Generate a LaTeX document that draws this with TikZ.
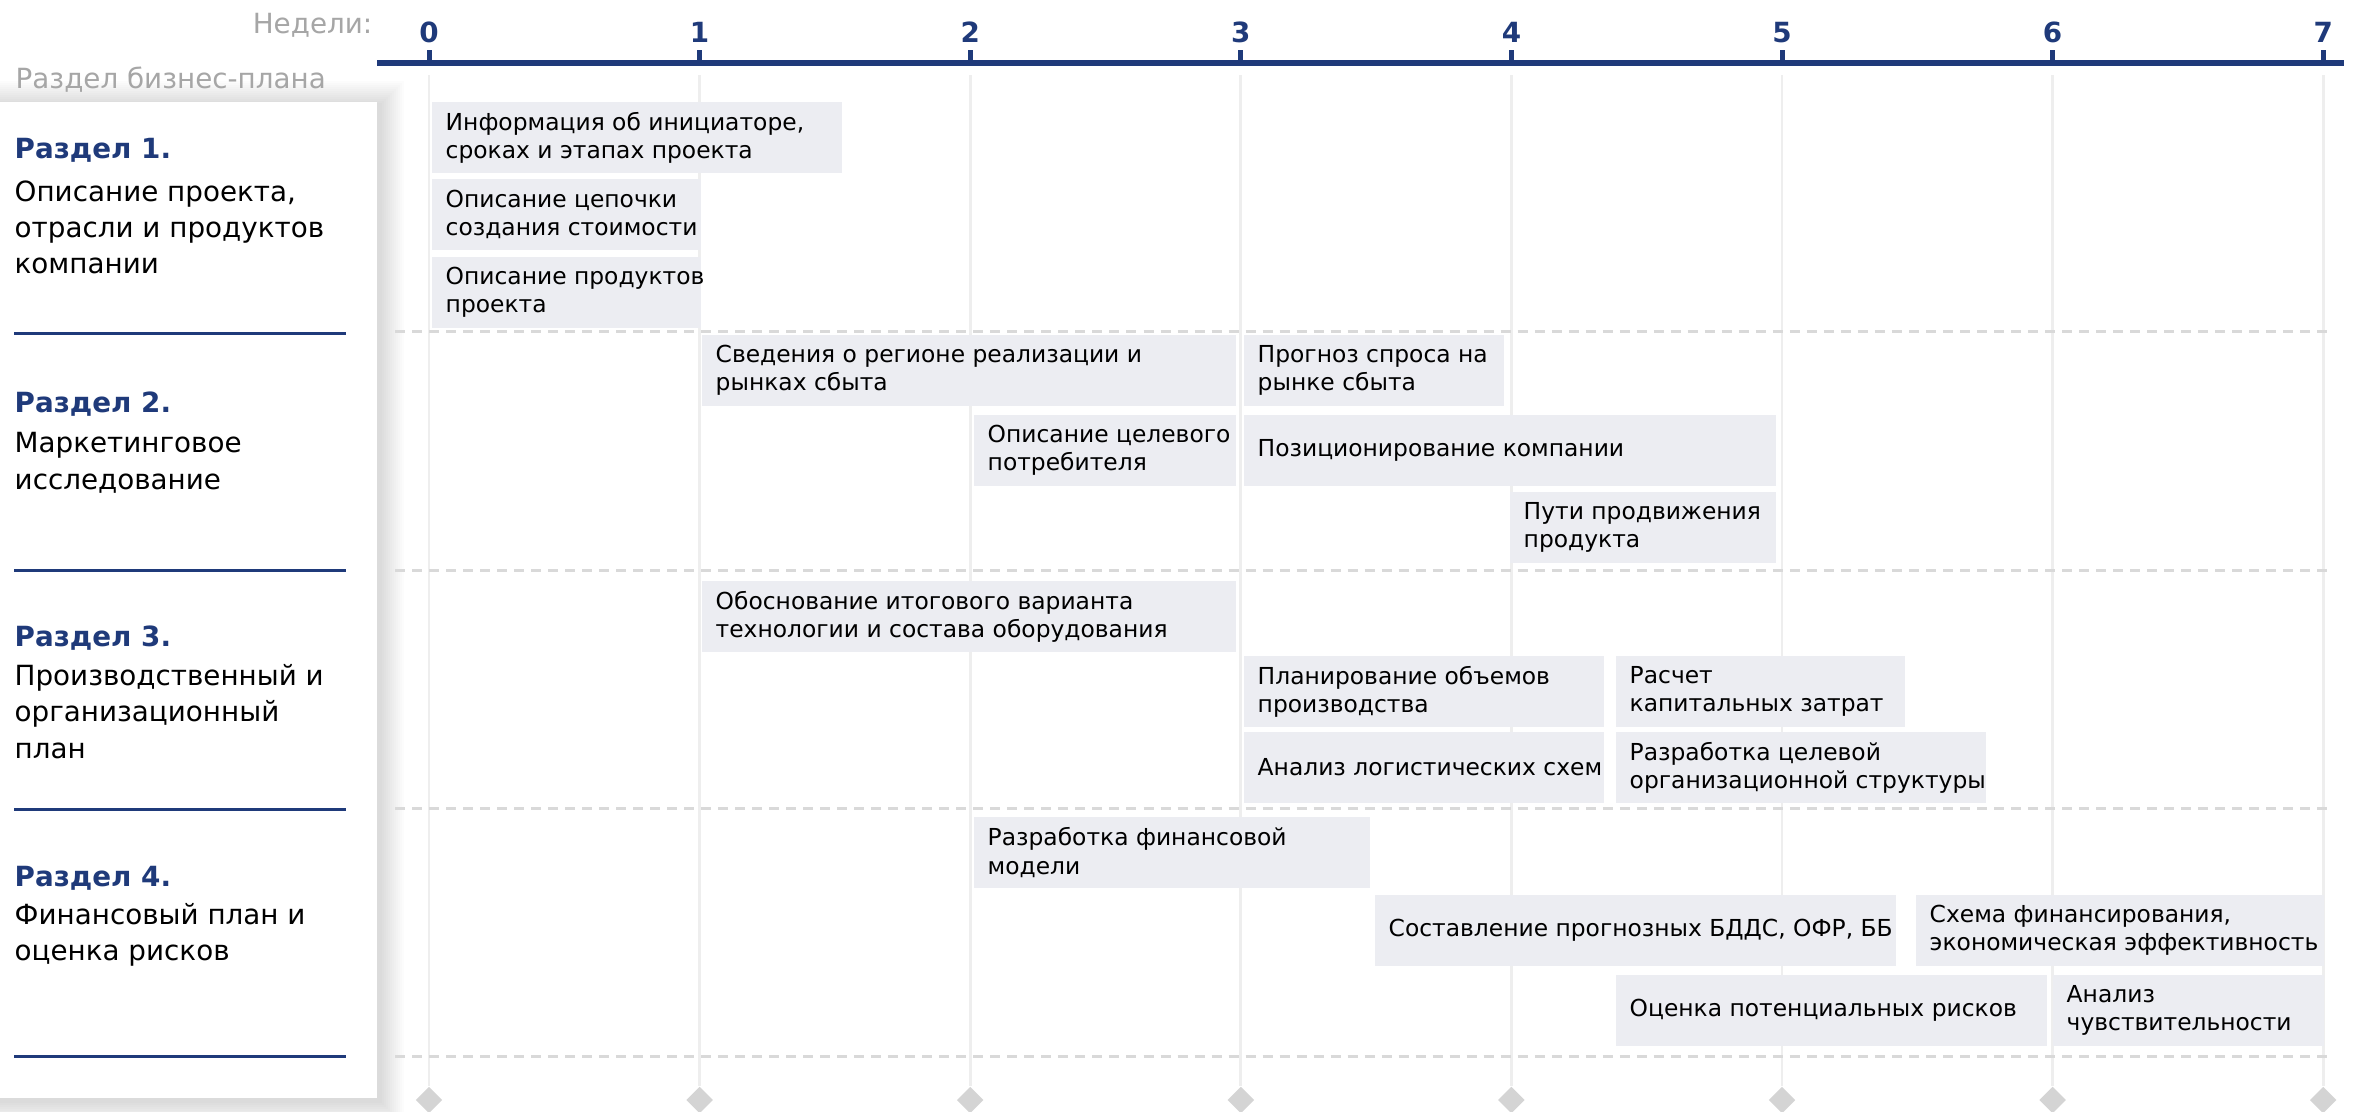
\documentclass[tikz,border=0pt]{standalone}
\usepackage{fontspec}
\setmainfont{DejaVu Sans}
\usetikzlibrary{positioning,shapes.geometric}

\definecolor{navy}{RGB}{31,58,122}
\definecolor{barfill}{RGB}{236,237,242}
\definecolor{headgray}{RGB}{166,166,166}
\definecolor{gridgray}{RGB}{238,238,238}
\definecolor{dashgray}{RGB}{217,217,217}
\definecolor{markgray}{RGB}{212,212,212}

\tikzset{
  taskbar/.style={fill=barfill, anchor=west, minimum height=0.71cm, inner sep=0pt},
  tasktext/.style={inner sep=0pt, align=left, font=\fontsize{6.65}{8}\selectfont},
  sectitle/.style={anchor=base west, inner sep=0pt, text=navy, font=\fontsize{7.9}{10.24}\selectfont\bfseries},
  secdesc/.style={anchor=base west, inner sep=0pt, align=left, font=\fontsize{7.9}{10.24}\selectfont},
  weeknum/.style={anchor=base, inner sep=0pt, text=navy, font=\fontsize{7.9}{9}\selectfont\bfseries},
  headlbl/.style={inner sep=0pt, text=headgray, font=\fontsize{7.9}{9}\selectfont},
  weekmark/.style={diamond, fill=markgray, minimum size=0.27cm, inner sep=0pt}
}

\begin{document}
\begin{tikzpicture}[x=0.01cm,y=-0.01cm]
\useasboundingbox[fill=white] (0,0) rectangle (2354,1112);

% left panel with soft shadow
\foreach \s in {2,4,...,24}
  \fill[black,opacity=0.012] ({-\s},{102-\s+3}) rectangle ({377+\s+3},{1098+\s+3});
\fill[white] (0,102) rectangle (377,1098);

% week grid
\foreach \k in {0,...,7}
  {
    \node[weekmark] (m\k) at ({429+270.6*\k},1100) {};
    \draw[gridgray, line width=0.027cm] ({429+270.6*\k},75) -- (m\k.north);
  }

\foreach \y in {331,570,808,1056}
  \draw[dashgray, line width=0.03cm, dash pattern=on 0.1cm off 0.07cm] (395,\y) -- (2334,\y);

% timeline
\draw[navy, line width=0.05cm] (377,63) -- (2344,63);
\foreach \k in {0,...,7}
  {
    \draw[navy, line width=0.05cm] ({429+270.6*\k},50) -- ({429+270.6*\k},63);
    \node[weeknum] (w\k) at ({429+270.6*\k},42) {\k};
  }

\node[headlbl, anchor=base east] (weeks) at (373,33) {Недели:};
\node[headlbl, anchor=base west] (parts) at (15,88) {Раздел бизнес-плана};

% sections (base = last line)
\node[sectitle] (s1) at (14,158) {Раздел 1.};
\node[secdesc] (s1d) at (14,273.5) {Описание проекта,\\отрасли и продуктов\\компании};
\node[sectitle] (s2) at (14,412) {Раздел 2.};
\node[secdesc] (s2d) at (14,489) {Маркетинговое\\исследование};
\node[sectitle] (s3) at (14,646) {Раздел 3.};
\node[secdesc] (s3d) at (14,758) {Производственный и\\организационный\\план};
\node[sectitle] (s4) at (14,886) {Раздел 4.};
\node[secdesc] (s4d) at (14,960) {Финансовый план и\\оценка рисков};

\foreach \y in {333,570,809,1056}
  \draw[navy, line width=0.03cm] (14,\y) -- (346,\y);

% tasks
\node[taskbar, minimum width=4.10cm] (t1) at (431,137.5) {};
\node[tasktext, right=0.14cm of t1.west] (t1l) {Информация об инициаторе,\\сроках и этапах проекта};
\node[taskbar, minimum width=2.69cm] (t2) at (431,214.5) {};
\node[tasktext, right=0.14cm of t2.west] (t2l) {Описание цепочки\\создания стоимости};
\node[taskbar, minimum width=2.69cm] (t3) at (431,292.5) {};
\node[tasktext, right=0.14cm of t3.west] (t3l) {Описание продуктов\\проекта};

\node[taskbar, minimum width=5.34cm] (t4) at (701,370.5) {};
\node[tasktext, right=0.14cm of t4.west] (t4l) {Сведения о регионе реализации и\\рынках сбыта};
\node[taskbar, minimum width=2.60cm] (t5) at (1243,370.5) {};
\node[tasktext, right=0.14cm of t5.west] (t5l) {Прогноз спроса на\\рынке сбыта};
\node[taskbar, minimum width=2.62cm] (t6) at (973,450.5) {};
\node[tasktext, right=0.14cm of t6.west] (t6l) {Описание целевого\\потребителя};
\node[taskbar, minimum width=5.32cm] (t7) at (1243,450.5) {};
\node[tasktext, right=0.14cm of t7.west] (t7l) {Позиционирование компании};
\node[taskbar, minimum width=2.66cm] (t8) at (1509,527.5) {};
\node[tasktext, right=0.14cm of t8.west] (t8l) {Пути продвижения\\продукта};

\node[taskbar, minimum width=5.34cm] (t9) at (701,616.5) {};
\node[tasktext, right=0.14cm of t9.west] (t9l) {Обоснование итогового варианта\\технологии и состава оборудования};
\node[taskbar, minimum width=3.60cm] (t10) at (1243,691.5) {};
\node[tasktext, right=0.14cm of t10.west] (t10l) {Планирование объемов\\производства};
\node[taskbar, minimum width=2.89cm] (t11) at (1615,691.5) {};
\node[tasktext, right=0.14cm of t11.west] (t11l) {Расчет\\капитальных затрат};
\node[taskbar, minimum width=3.60cm] (t12) at (1243,767.5) {};
\node[tasktext, right=0.14cm of t12.west] (t12l) {Анализ логистических схем};
\node[taskbar, minimum width=3.70cm] (t13) at (1615,767.5) {};
\node[tasktext, right=0.14cm of t13.west] (t13l) {Разработка целевой\\организационной структуры};

\node[taskbar, minimum width=3.96cm] (t14) at (973,852.5) {};
\node[tasktext, right=0.14cm of t14.west] (t14l) {Разработка финансовой\\модели};
\node[taskbar, minimum width=5.21cm] (t15) at (1374,930.5) {};
\node[tasktext, right=0.14cm of t15.west] (t15l) {Составление прогнозных БДДС, ОФР, ББ};
\node[taskbar, minimum width=4.08cm] (t16) at (1915,930.5) {};
\node[tasktext, right=0.14cm of t16.west] (t16l) {Схема финансирования,\\экономическая эффективность};
\node[taskbar, minimum width=4.31cm] (t17) at (1615,1010.5) {};
\node[tasktext, right=0.14cm of t17.west] (t17l) {Оценка потенциальных рисков};
\node[taskbar, minimum width=2.71cm] (t18) at (2052,1010.5) {};
\node[tasktext, right=0.14cm of t18.west] (t18l) {Анализ\\чувствительности};

\end{tikzpicture}
\end{document}
